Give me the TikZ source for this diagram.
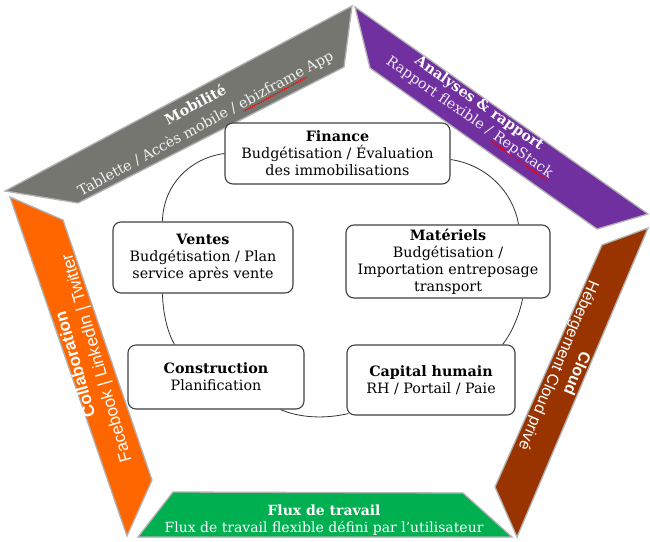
\documentclass[tikz,border=0pt]{standalone}
\usepackage{fontspec}
\setmainfont{DejaVu Serif}
\newfontfamily\sansf{Liberation Sans}
\usetikzlibrary{calc,backgrounds,decorations.pathmorphing}
\newsavebox\wordbox
\newlength\wordwd
\newcommand\redsq[1]{\sbox\wordbox{#1}\setlength\wordwd{\wd\wordbox}%
  \rlap{\tikz[baseline=0pt]\draw[red,line width=.5pt,decorate,decoration={snake,amplitude=.8pt,segment length=2.6pt}] (0pt,-3pt) -- (\wordwd,-3pt);}\usebox\wordbox}
\definecolor{bgray}{RGB}{118,118,112}
\definecolor{bpurple}{RGB}{112,48,160}
\definecolor{bbrown}{RGB}{153,51,0}
\definecolor{borange}{RGB}{255,102,0}
\definecolor{bgreen}{RGB}{0,176,80}
\tikzset{
  band/.style={draw=black!30, line width=1.3pt, line join=miter},
  bandtext/.style={text=white, align=center, inner sep=0pt},
  box/.style={draw=black!75, line width=1.1pt, rounded corners=8pt, fill=white,
    align=center, inner sep=0pt, font=\fontsize{14.3}{17}\selectfont},
  arc/.style={draw=black!80, line width=0.8pt}
}
\begin{document}
\begin{tikzpicture}[x=1pt,y=-1pt]
\useasboundingbox (0,0) rectangle (650,541);
% bands
\filldraw[band, fill=bgray]   (5,191) -- (352,6) -- (344,67) -- (78,203) -- cycle;
\filldraw[band, fill=bpurple] (355,7) -- (648,214) -- (597,229) -- (370,68) -- cycle;
\filldraw[band, fill=bbrown]  (648,228) -- (517,537) -- (495,487) -- (602,245) -- cycle;
\filldraw[band, fill=bgreen]  (138,537) -- (512,537) -- (463,493) -- (173,492) -- cycle;
\filldraw[band, fill=borange] (10,197) -- (127,536) -- (152,480) -- (63,220) -- cycle;
% band texts
\node[bandtext, rotate=28.5, font=\fontsize{14.3}{21}\selectfont] (mob) at (201,115)
  {\textbf{Mobilité}\\{\color{white!90!bgray}Tablette / Accès mobile / \redsq{ebizframe} App}};
\node[bandtext, rotate=-35, font=\fontsize{14.3}{17}\selectfont] (ana) at (474,111)
  {\textbf{Analyses \& rapport}\\{\color{white!90!bpurple}Rapport flexible / \redsq{RepStack}}};
\node[bandtext, rotate=-113, font=\sansf\fontsize{16}{20}\selectfont] (clo) at (567,369)
  {\textbf{Cloud}\\Hébergement Cloud privé};
\node[bandtext, rotate=106, font=\sansf\fontsize{17}{22}\selectfont] (col) at (87,361)
  {\textbf{Collaboration}\\Facebook | LinkedIn | Twitter};
\node[bandtext, font=\fontsize{14}{17}\selectfont] (flu) at (324,520)
  {\textbf{Flux de travail}\\Flux de travail flexible défini par l'utilisateur};
% boxes
\node[box, minimum width=225pt, minimum height=61pt] (fin) at (337.5,153.5)
  {\textbf{Finance}\\Budgétisation / Évaluation\\des immobilisations};
\node[box, minimum width=180pt, minimum height=71pt] (ven) at (203,257.5)
  {\textbf{Ventes}\\Budgétisation / Plan\\service après vente};
\node[box, minimum width=204pt, minimum height=73pt] (mat) at (448,261.5)
  {\textbf{Matériels}\\Budgétisation /\\Importation entreposage\\transport};
\node[box, minimum width=176pt, minimum height=64pt] (con) at (216,377)
  {\textbf{Construction}\\Planification};
\node[box, minimum width=168pt, minimum height=70pt] (cap) at (431,380)
  {\textbf{Capital humain}\\RH / Portail / Paie};
% arcs
\begin{scope}[on background layer]
\draw[arc] (fin.west) .. controls (190,158) and (163,185) .. ($(ven.north west)+(50,0)$);
\draw[arc] ($(ven.south west)+(50,0)$) .. controls (163,315) and (168,333) .. ($(con.north west)+(47,0)$);
\draw[arc] ($(con.south east)+(-24,0)$) .. controls (300,418) and (325,419) .. ($(cap.south west)+(2,-2)$);
\draw[arc] ($(cap.north east)+(-13,0)$) .. controls (512,333) and (520,313) .. ($(mat.south east)+(-28,0)$);
\draw[arc] ($(mat.north east)+(-32,0)$) .. controls (513,192) and (487,165) .. ($(fin.east)+(0,6)$);
\end{scope}
\end{tikzpicture}
\end{document}
